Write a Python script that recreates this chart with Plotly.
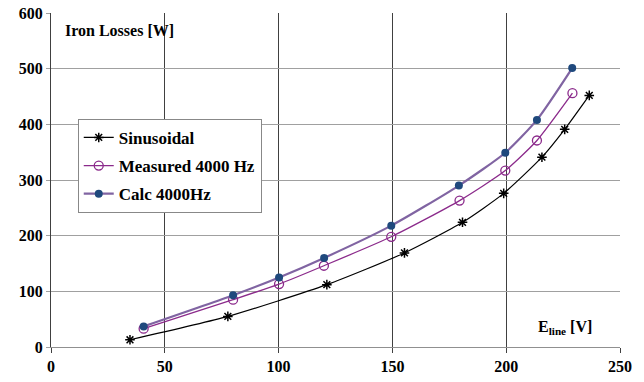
import plotly.graph_objects as go

sin_x = [34.7, 77.7, 121.2, 155.3, 180.8, 198.9, 215.7, 225.7, 236.5]
sin_y = [13, 55, 112, 169, 224, 276, 341, 391, 452]

meas_x = [40.7, 80, 100.2, 119.9, 149.5, 179.5, 199.6, 213.5, 229.1]
meas_y = [33, 85, 113, 146, 198, 263, 317, 371, 456]

calc_x = [40.7, 80, 100.2, 120, 149.5, 179.2, 199.6, 213.5, 229.0]
calc_y = [37, 93, 125, 160, 218, 290, 349, 408, 501]

x_ticks = [0, 50, 100, 150, 200, 250]
y_ticks = [0, 100, 200, 300, 400, 500, 600]

FONT = "Liberation Serif, Times New Roman, serif"

fig = go.Figure()
fig.add_trace(go.Scatter(
    x=sin_x, y=sin_y, name="Sinusoidal", mode="lines+markers", legendgroup="a",
    line=dict(color="black", width=1.2, shape="spline", smoothing=0.6),
    marker=dict(symbol="asterisk-open", size=8, color="black",
                line=dict(color="black", width=1.5))))
fig.add_trace(go.Scatter(
    x=meas_x, y=meas_y, name="Measured 4000 Hz", mode="lines+markers", legendgroup="b",
    line=dict(color="#8B2A8B", width=1.3, shape="spline", smoothing=0.6),
    marker=dict(symbol="circle-open", size=9, color="#8B2A8B",
                line=dict(color="#8B2A8B", width=1.3))))
fig.add_trace(go.Scatter(
    x=calc_x, y=calc_y, name="Calc 4000Hz", mode="lines+markers", legendgroup="c",
    line=dict(color="#8064A2", width=2.2, shape="spline", smoothing=0.6),
    marker=dict(symbol="circle", size=8, color="#1F497D")))

fig.update_layout(
    width=644, height=382,
    margin=dict(l=51, r=24, t=13, b=35, autoexpand=False),
    paper_bgcolor="white", plot_bgcolor="white",
    font=dict(family=FONT, size=16, color="black", weight="bold"),
    showlegend=True,
    legend=dict(x=0.047, y=0.683, xanchor="left", yanchor="top",
                bgcolor="white", bordercolor="#888888", borderwidth=1,
                font=dict(family=FONT, size=17, color="black", weight="bold"),
                tracegroupgap=3, itemwidth=30),
    xaxis=dict(range=[0, 250], tickvals=x_ticks, ticktext=[str(v) for v in x_ticks],
               showgrid=True, gridcolor="#404040", gridwidth=1,
               showline=True, linecolor="#909090", mirror=False,
               ticks="outside", ticklen=5, tickcolor="#404040",
               zeroline=False, automargin=False,
               tickfont=dict(family=FONT, size=16, weight="bold")),
    yaxis=dict(range=[0, 600], tickvals=y_ticks, ticktext=[str(v) for v in y_ticks],
               showgrid=True, gridcolor="#a0a0a0", gridwidth=1,
               showline=True, linecolor="#404040",
               ticks="outside", ticklen=4, tickcolor="#a0a0a0",
               zeroline=False, automargin=False,
               tickfont=dict(family=FONT, size=16, weight="bold")),
)
fig.add_annotation(x=0.021, y=0.949, xref="paper", yref="paper",
                   xanchor="left", yanchor="middle", showarrow=False,
                   text="Iron Losses [W]", font=dict(family=FONT, size=16, weight="bold"))
fig.add_annotation(x=225.7, y=35, xref="x", yref="y",
                   xanchor="center", yanchor="middle", showarrow=False,
                   text="E<sub>line</sub> [V]", font=dict(family=FONT, size=16, weight="bold"))

fig.write_html("out.html")
